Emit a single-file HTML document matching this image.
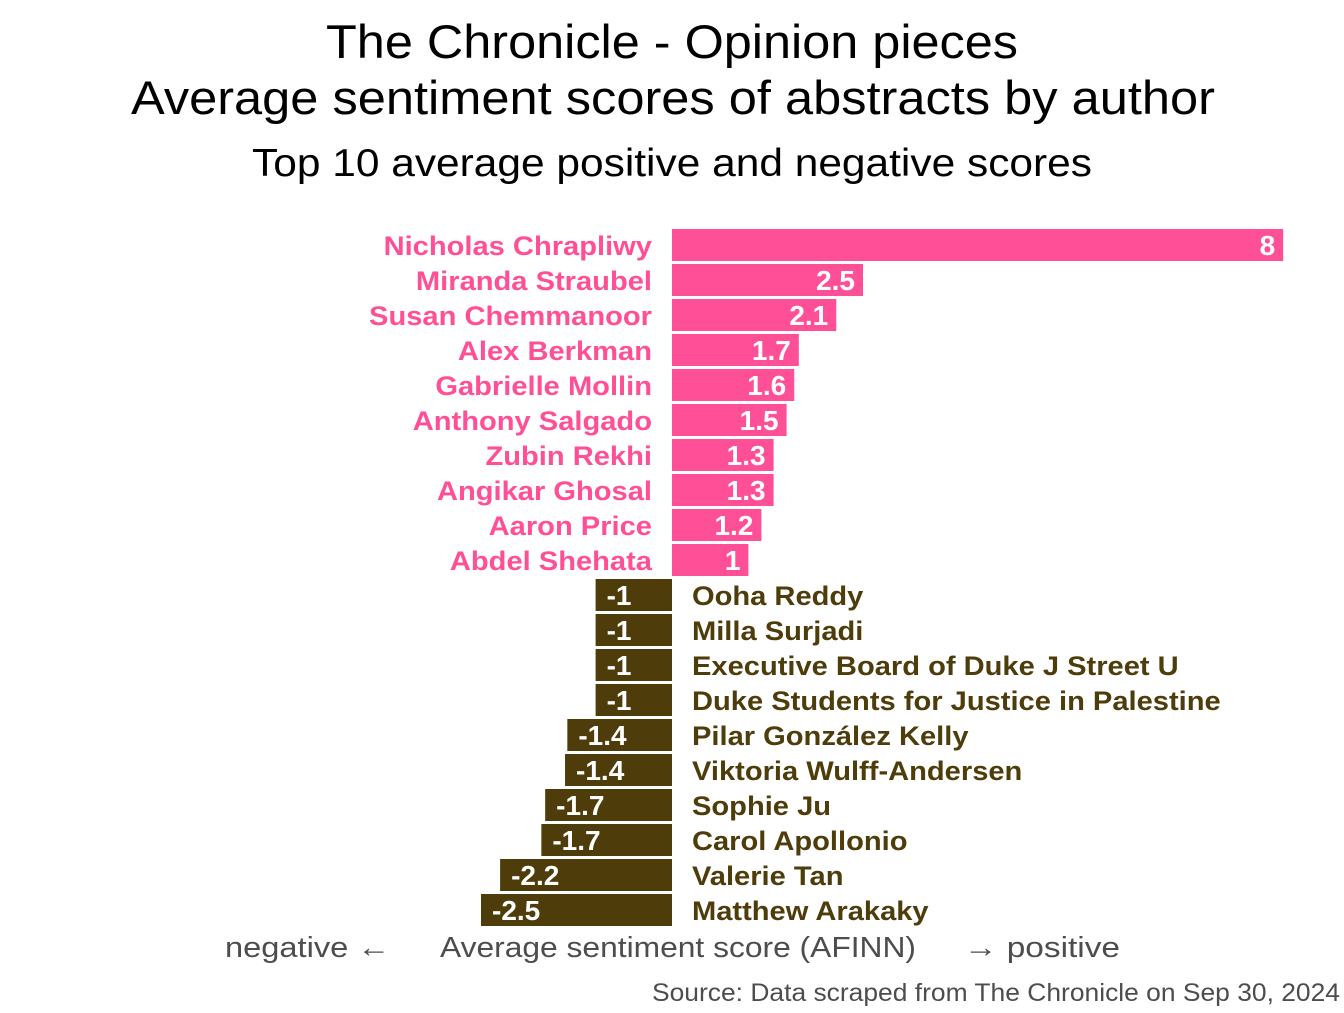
<!DOCTYPE html>
<html><head><meta charset="utf-8"><style>
body{margin:0;background:#fff;}
svg text{font-family:"Liberation Sans",sans-serif;}
</style></head><body>
<svg id="chart" width="1344" height="1008" viewBox="0 0 1344 1008">
<text x="326" y="58" font-size="47" textLength="692" lengthAdjust="spacingAndGlyphs" fill="#000">The Chronicle - Opinion pieces</text>
<text x="131" y="114" font-size="47" textLength="1084" lengthAdjust="spacingAndGlyphs" fill="#000">Average sentiment scores of abstracts by author</text>
<text x="252" y="176" font-size="39" textLength="840" lengthAdjust="spacingAndGlyphs" fill="#000">Top 10 average positive and negative scores</text>
<g id="bars"></g>
<text x="225" y="957" font-size="29" textLength="165" lengthAdjust="spacingAndGlyphs" fill="#4d4d4d">negative  ←</text>
<text x="440" y="957" font-size="29" textLength="476" lengthAdjust="spacingAndGlyphs" fill="#4d4d4d">Average sentiment score (AFINN)</text>
<text x="964" y="957" font-size="29" textLength="156" lengthAdjust="spacingAndGlyphs" fill="#4d4d4d">→  positive</text>
<text x="652" y="1001" font-size="25" textLength="688" lengthAdjust="spacingAndGlyphs" fill="#4d4d4d">Source: Data scraped from The Chronicle on Sep 30, 2024</text>
</svg>
<script>
const authors = ["Nicholas Chrapliwy","Miranda Straubel","Susan Chemmanoor","Alex Berkman","Gabrielle Mollin","Anthony Salgado","Zubin Rekhi","Angikar Ghosal","Aaron Price","Abdel Shehata","Ooha Reddy","Milla Surjadi","Executive Board of Duke J Street U","Duke Students for Justice in Palestine","Pilar González Kelly","Viktoria Wulff-Andersen","Sophie Ju","Carol Apollonio","Valerie Tan","Matthew Arakaky"];
const scores = [8,2.5,2.15,1.66,1.6,1.5,1.33,1.33,1.17,1,-1,-1,-1,-1,-1.37,-1.4,-1.66,-1.71,-2.25,-2.5];
const scoreLabels = ["8","2.5","2.1","1.7","1.6","1.5","1.3","1.3","1.2","1","-1","-1","-1","-1","-1.4","-1.4","-1.7","-1.7","-2.2","-2.5"];
const NS="http://www.w3.org/2000/svg";
const x0=672, unit=76.4, top0=245, pitch=35, bh=32;
const xs=v=>x0+v*unit;
const ys=i=>top0+i*pitch;
const g=document.getElementById('bars');
authors.forEach((a,i)=>{
  const v=scores[i], pos=v>=0, col=pos?"#FF4F96":"#4E3D0A";
  const r=document.createElementNS(NS,'rect');
  r.setAttribute('x',Math.min(xs(0),xs(v)));
  r.setAttribute('y',ys(i)-bh/2);
  r.setAttribute('width',Math.abs(xs(v)-xs(0)));
  r.setAttribute('height',bh);
  r.setAttribute('fill',col);
  
  
  g.appendChild(r);
  const t=document.createElementNS(NS,'text');
  t.setAttribute('x',pos?xs(v)-8:xs(v)+11);
  t.setAttribute('y',ys(i)+10);
  t.setAttribute('font-size','28');t.setAttribute('font-weight','bold');t.setAttribute('fill','#fff');
  t.setAttribute('text-anchor',pos?'end':'start');
  t.textContent=scoreLabels[i];
  
  
  g.appendChild(t);
  const n=document.createElementNS(NS,'text');
  n.setAttribute('x',pos?x0-20:x0+20);
  n.setAttribute('y',ys(i)+10);
  n.setAttribute('font-size','27');n.setAttribute('font-weight','bold');n.setAttribute('fill',col);
  n.setAttribute('text-anchor',pos?'end':'start');
  n.setAttribute('transform','translate('+(pos?x0-20:x0+20)+',0) scale(1.078,1) translate('+(-(pos?x0-20:x0+20))+',0)');
  n.textContent=a;
  
  
  g.appendChild(n);
});
</script>
</body></html>
